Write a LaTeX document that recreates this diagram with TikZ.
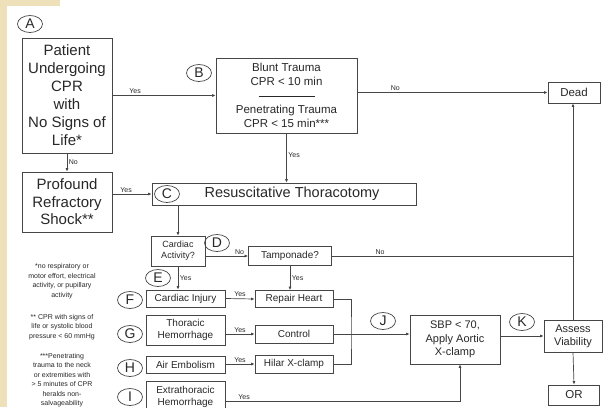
\documentclass[tikz,border=0pt]{standalone}
\usepackage{fontspec}
\setmainfont{Liberation Sans}
\usetikzlibrary{arrows.meta, shapes.geometric}
\definecolor{slidebeige}{RGB}{238,224,184}
\definecolor{linegray}{RGB}{70,70,70}
\definecolor{textgray}{RGB}{40,40,40}
\newcommand{\fsz}[2]{\fontsize{#1}{#2}\selectfont}

\tikzset{
    box/.style = {draw=linegray, line width=0.7pt, align=center, inner sep=1pt, text=textgray, font=\fsz{10}{12}},
    tag/.style = {draw=linegray, ellipse, line width=0.7pt, minimum width=25pt, minimum height=17pt, inner sep=0pt, text=textgray, font=\fsz{14}{14}},
    lbl/.style = {font=\fsz{7}{7}, text=textgray, inner sep=1.5pt},
    arr/.style = {line width=0.7pt, draw=linegray, -{Latex[length=3.5pt, width=3pt]}},
    ln/.style = {line width=0.7pt, draw=linegray},
    note/.style = {align=center, inner sep=0pt, text=textgray, font=\fsz{7}{9.5}}
}

\begin{document}
\begin{tikzpicture}[x=1pt, y=-1pt]
        \useasboundingbox (0, 0) rectangle (612, 407);
        \clip (0, 0) rectangle (612, 407);
        \fill[white] (0, 0) rectangle (612, 407);
        \fill[slidebeige] (0, 0) rectangle (7, 407);
        \fill[slidebeige] (0, 0) rectangle (60, 6);

        % boxes
        \node[box, font=\fsz{15}{18}, minimum width=90pt, minimum height=115pt] (patient) at (67, 95.5)
        {Patient\\Undergoing\\CPR\\with\\No Signs of\\Life*};
        \node[box, font=\fsz{15}{17.5}, minimum width=90pt, minimum height=60pt] (profound) at (67, 202)
        {Profound\\Refractory\\Shock**};
        \node[box, font=\fsz{11.5}{14}, minimum width=141pt, minimum height=75pt] (blunt) at (286.5, 95.5)
        {Blunt Trauma\\CPR < 10 min\\\rule[3pt]{56pt}{0.6pt}\\Penetrating Trauma\\CPR < 15 min***};
        \node[box, font=\fsz{11.5}{13}, minimum width=52pt, minimum height=21pt] (dead) at (574, 92.5) {Dead};
        \node[box, font=\fsz{14.5}{16}, minimum width=264pt, minimum height=22pt] (thor) at (284, 194)
        {\hspace*{16pt}Resuscitative Thoracotomy};
        \node[box, font=\fsz{9}{11}, minimum width=54pt, minimum height=30pt] (cardiac) at (178, 251)
        {Cardiac\\Activity?};
        \node[box, minimum width=83pt, minimum height=19pt] (tamp) at (290, 256) {Tamponade?};
        \node[box, minimum width=79pt, minimum height=17pt] (injury) at (185.5, 298.5) {Cardiac Injury};
        \node[box, minimum width=79pt, minimum height=30pt] (thoracic) at (185.5, 330) {Thoracic\\Hemorrhage};
        \node[box, minimum width=79pt, minimum height=17pt] (air) at (185.5, 364.5) {Air Embolism};
        \node[box, minimum width=79pt, minimum height=32pt] (extra) at (185.5, 397) {Extrathoracic\\Hemorrhage};
        \node[box, minimum width=78pt, minimum height=17pt] (repair) at (294, 299) {Repair Heart};
        \node[box, minimum width=78pt, minimum height=18pt] (control) at (294, 334) {Control};
        \node[box, minimum width=78pt, minimum height=18pt] (hilar) at (294, 364) {Hilar X-clamp};
        \node[box, font=\fsz{11}{13.5}, minimum width=90pt, minimum height=49pt] (sbp) at (455, 339.5)
        {SBP < 70,\\Apply Aortic\\X-clamp};
        \node[box, font=\fsz{11}{13}, minimum width=58pt, minimum height=32pt] (assess) at (573, 336)
        {Assess\\Viability};
        \node[box, font=\fsz{11.5}{13}, minimum width=51pt, minimum height=20pt] (or) at (574, 395) {OR};

        % letter tags
        \node[tag] (tagA) at (30, 24) {A};
        \node[tag] (tagB) at (199, 73) {B};
        \node[tag] (tagC) at (167, 194) {C};
        \node[tag] (tagD) at (217, 243) {D};
        \node[tag] (tagE) at (158, 278) {E};
        \node[tag] (tagF) at (130, 300) {F};
        \node[tag] (tagG) at (130, 334) {G};
        \node[tag] (tagH) at (130, 368) {H};
        \node[tag] (tagI) at (130, 397) {I};
        \node[tag] (tagJ) at (383, 321) {J};
        \node[tag] (tagK) at (522, 322) {K};

        % footnotes
        \node[note] (note1) at (62, 281)
        {*no respiratory or\\motor effort, electrical\\activity, or pupillary\\activity};
        \node[note] (note2) at (62, 327)
        {** CPR with signs of\\life or systolic blood\\pressure < 60 mmHg};
        \node[note, anchor=north] (note3) at (62, 353)
        {***Penetrating\\trauma to the neck\\or extremities with\\> 5 minutes of CPR\\heralds non-\\salvageability};

        % connectors
        \draw[arr]
        (patient.east) to node[lbl, above, pos=0.22] {Yes} (blunt.west);
        \draw[arr]
        (blunt.east |- dead.west) to node[lbl, above, pos=0.2] {No} (dead.west);
        \draw[arr]
        (blunt.south) to node[lbl, right, pos=0.45] {Yes} (blunt.south |- thor.north);
        \draw[arr]
        (patient.south) to node[lbl, right] {No} (profound.north);
        \draw[arr]
        (profound.east |- thor.west) to node[lbl, above, pos=0.35] {Yes} (thor.west);
        \draw[arr]
        (cardiac.north |- thor.south) to (cardiac.north);
        \draw[arr]
        (cardiac.east |- tamp.west) to node[lbl, above, pos=0.8] {No} (tamp.west);
        \draw[ln]
        (tamp.east) to node[lbl, above, pos=0.2] {No} (tamp.east -| assess.north);
        \draw[arr]
        (assess.north) to (assess.north |- dead.south);
        \draw[arr]
        (tamp.south) to node[lbl, right] {Yes} (tamp.south |- repair.north);
        \draw[arr]
        (cardiac.south) to node[lbl, right] {Yes} (cardiac.south |- injury.north);

        \draw[arr]
        (injury.east) to node[lbl, above] {Yes} (repair.west);
        \draw[arr]
        (thoracic.east |- control.west) to node[lbl, above] {Yes} (control.west);
        \draw[arr]
        (air.east |- hilar.west) to node[lbl, above] {Yes} (hilar.west);

        \coordinate (merge) at (351, 334);
        \draw[ln]
        (repair.east) -| (merge) |- (hilar.east);
        \draw[arr]
        (control.east) to (control.east -| sbp.west);
        \draw[arr]
        ([yshift=-4pt]extra.east) -| node[lbl, above, pos=0.04] {Yes} ([xshift=5pt]sbp.south);
        \draw[arr]
        (sbp.east |- assess.west) to (assess.west);
        \draw[arr]
        (assess.south) to (or.north);
\end{tikzpicture}
\end{document}
